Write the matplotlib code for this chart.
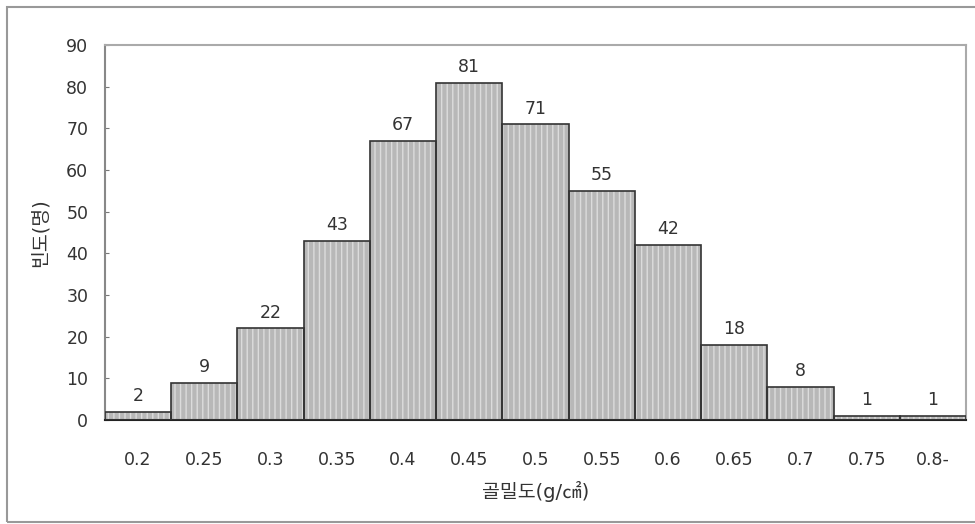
import matplotlib
matplotlib.use("Agg")
import matplotlib.pyplot as plt
from matplotlib.patches import Rectangle

categories = ["0.2", "0.25", "0.3", "0.35", "0.4", "0.45", "0.5", "0.55", "0.6", "0.65", "0.7", "0.75", "0.8-"]
counts = [2, 9, 22, 43, 67, 81, 71, 55, 42, 18, 8, 1, 1]
yticks = [0, 10, 20, 30, 40, 50, 60, 70, 80, 90]

plt.rcParams['font.family'] = ['DejaVu Sans', 'Noto Sans CJK KR']
plt.rcParams['hatch.linewidth'] = 1.0

fig = plt.figure(figsize=(9.75, 5.24), dpi=100)
fig.patches.append(Rectangle((7/975, 1-522/524), 1.2, (522-7)/524, transform=fig.transFigure,
                             fill=False, edgecolor='#999999', linewidth=1.5))
ax = fig.add_axes([105/975, 1-420/524, (966-105)/975, (420-45)/524])

x = list(range(len(categories)))
ax.bar(x, counts, width=1.0, color='#b8b8b8', edgecolor='#dcdcdc', hatch='|||', linewidth=0, zorder=2)
ax.bar(x, counts, width=1.0, fill=False, edgecolor='#333333', linewidth=1.2, zorder=3)

for xi, c in zip(x, counts):
    ax.text(xi, c + 1.6, str(c), ha='center', va='bottom', fontsize=12.5, color='#333333')

ax.set_xlim(-0.5, len(categories) - 0.5)
ax.set_ylim(0, 90)
ax.set_yticks(yticks)
ax.set_xticks(x)
ax.set_xticklabels(categories)
ax.tick_params(axis='x', length=0, pad=22, labelsize=12.5, labelcolor='#333333')
ax.tick_params(axis='y', direction='in', length=3, pad=12, labelsize=12.5, labelcolor='#333333', color='#777777')

for s in ['top', 'right']:
    ax.spines[s].set_color('#aaaaaa')
    ax.spines[s].set_linewidth(1.5)
ax.spines['left'].set_color('#888888')
ax.spines['left'].set_linewidth(1.5)
ax.spines['bottom'].set_color('#222222')
ax.spines['bottom'].set_linewidth(1.5)

ax.set_xlabel("골밀도(g/㎠)", fontsize=14, color='#333333', labelpad=9)
ax.set_ylabel("빈도(명)", fontsize=14, color='#333333', labelpad=12)

fig.savefig("out.png", dpi=100)
